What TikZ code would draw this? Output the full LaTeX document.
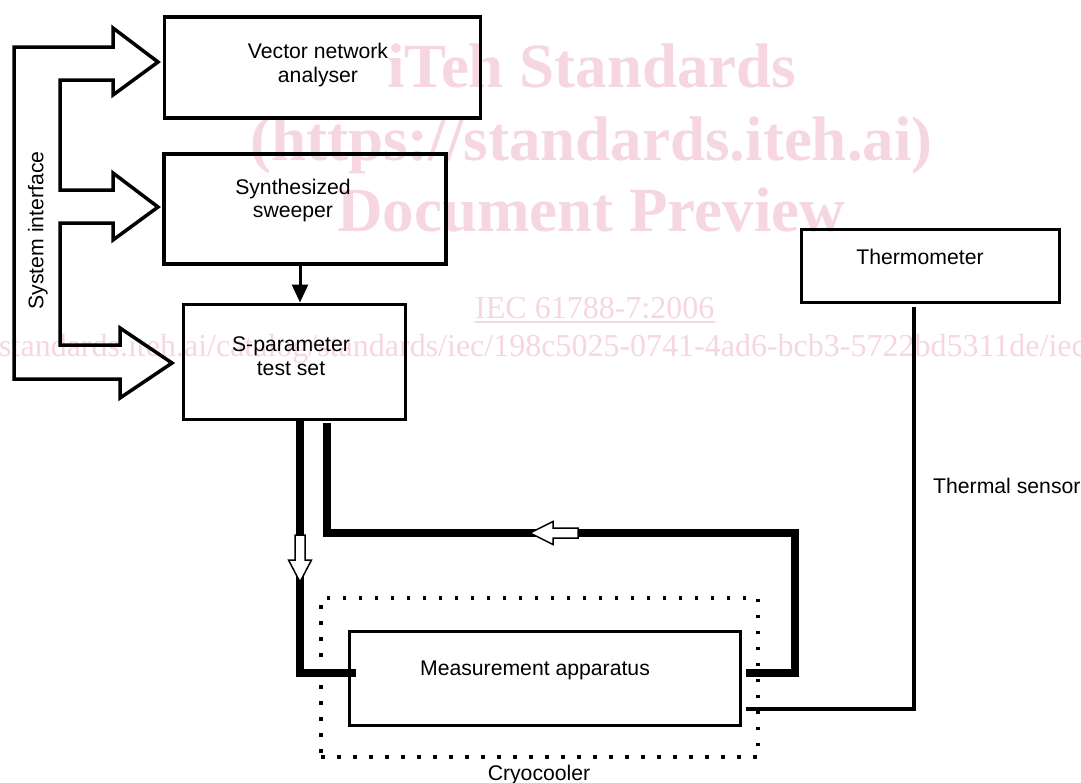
\documentclass[tikz,border=0pt]{standalone}
\usepackage{fontspec}
\setmainfont{Liberation Sans}
\newfontfamily\wmserif{Liberation Serif}
\usetikzlibrary{arrows.meta}
\definecolor{wm}{RGB}{246,214,224}
\begin{document}
\begin{tikzpicture}[x=1pt,y=-1pt,
  box/.style={draw, rectangle, line width=3.5pt, inner sep=0pt},
  lbl/.style={font=\fontsize{21.2}{23.5}\selectfont, inner sep=0pt, align=center},
  wmb/.style={font=\wmserif\bfseries\fontsize{63}{70}\selectfont, text=wm, inner sep=0pt, anchor=base west},
  wmr/.style={font=\wmserif\fontsize{32}{36}\selectfont, text=wm, inner sep=0pt, anchor=base west},
  tl/.style={line width=7.5pt, line join=miter},
  hollow/.style={fill=white, draw=black, line width=1.5pt, line join=miter},
  thermal/.style={line width=3.3pt, line join=miter}]
\useasboundingbox (0,0) rectangle (1081,782);
\clip (0,0) rectangle (1081,782);

% watermark
\node[wmb] (wm1) at (387,87) {iTeh Standards};
\node[wmb] (wm2) at (250,160) {(https://standards.iteh.ai)};
\node[wmb] (wm3) at (337,231) {Document Preview};
\node[wmr] (wm4) at (475,318) {IEC 61788-7:2006};
\draw[wm, line width=1.6pt] ([yshift=-4pt]wm4.base west) -- ([yshift=-4pt]wm4.base east);
\node[wmr] (wm5) at (-1,356) {standards.iteh.ai/catalog/standards/iec/198c5025-0741-4ad6-bcb3-5722bd5311de/iec};

% boxes
\node[box, minimum width=316pt, minimum height=101pt] (vna) at (322.5,67.5) {};
\node[box, minimum width=282pt, minimum height=110pt] (sw) at (305,209) {};
\node[box, line width=3pt, minimum width=222pt, minimum height=115pt] (sp) at (294,361.5) {};
\node[box, line width=3pt, minimum width=258pt, minimum height=73pt] (th) at (930,265.5) {};
\node[box, line width=3pt, minimum width=391pt, minimum height=94pt] (ma) at (544.5,678) {};
\node[draw, rectangle, inner sep=0pt, line width=3.5pt, dash pattern=on 3.5pt off 12.5pt,
      minimum width=437pt, minimum height=159pt] (cc) at (539.5,677.5) {};

% labels
\node[lbl] (vnat) at (318,64.8) {Vector network\\analyser};
\node[lbl] (swt) at (293,200.5) {Synthesized\\sweeper};
\node[lbl] (spt) at (291,356.3) {S-parameter\\test set};
\node[lbl] (tht) at (920,257.3) {Thermometer};
\node[lbl] (mat) at (535,670.5) {Measurement apparatus};
\node[lbl, anchor=west] (tst) at (933,486.3) {Thermal sensor};
\node[lbl, anchor=north] (cct) at (539,765) {Cryocooler};
\node[lbl, rotate=90] (sit) at (37.8,230.5) {System interface};

% system interface bus
\draw[line width=3.5pt, line join=miter]
  (14,47) -- (113,47) -- (113,28) -- (158,62) -- (113,95) -- (113,80) -- (60,80)
  -- (60,190) -- (113,190) -- (113,173) -- (158,207) -- (113,240) -- (113,223) -- (60,223)
  -- (60,345) -- (120,345) -- (120,328) -- (172,363) -- (120,398) -- (120,379) -- (14,379) -- cycle;

% sweeper -> test set
\draw[line width=3pt, -{Triangle[width=16pt,length=18pt]}] ([xshift=-5pt]sw.south) -- ([xshift=6pt]sp.north);

% RF paths
\coordinate (spout) at (300,420);
\coordinate (spin) at (327,423);
\coordinate (main) at (356,673);
\coordinate (maout) at (746,673);
\coordinate (rc) at (795,533);
\draw[tl] (spout) |- (main);
\draw[tl] (maout) -| (rc) -| (spin);
\filldraw[hollow] (295,535) -- (305,535) -- (305,560) -- (311.5,560) -- (300,582) -- (288.5,560) -- (295,560) -- cycle;
\filldraw[hollow] (578,528) -- (553,528) -- (553,521.5) -- (530,533) -- (553,544.5) -- (553,538) -- (578,538) -- cycle;

% thermal sensor
\coordinate (tstop) at (914,307);
\coordinate (tsend) at (746,709);
\draw[thermal] (tstop) |- (tsend);
\end{tikzpicture}
\end{document}
